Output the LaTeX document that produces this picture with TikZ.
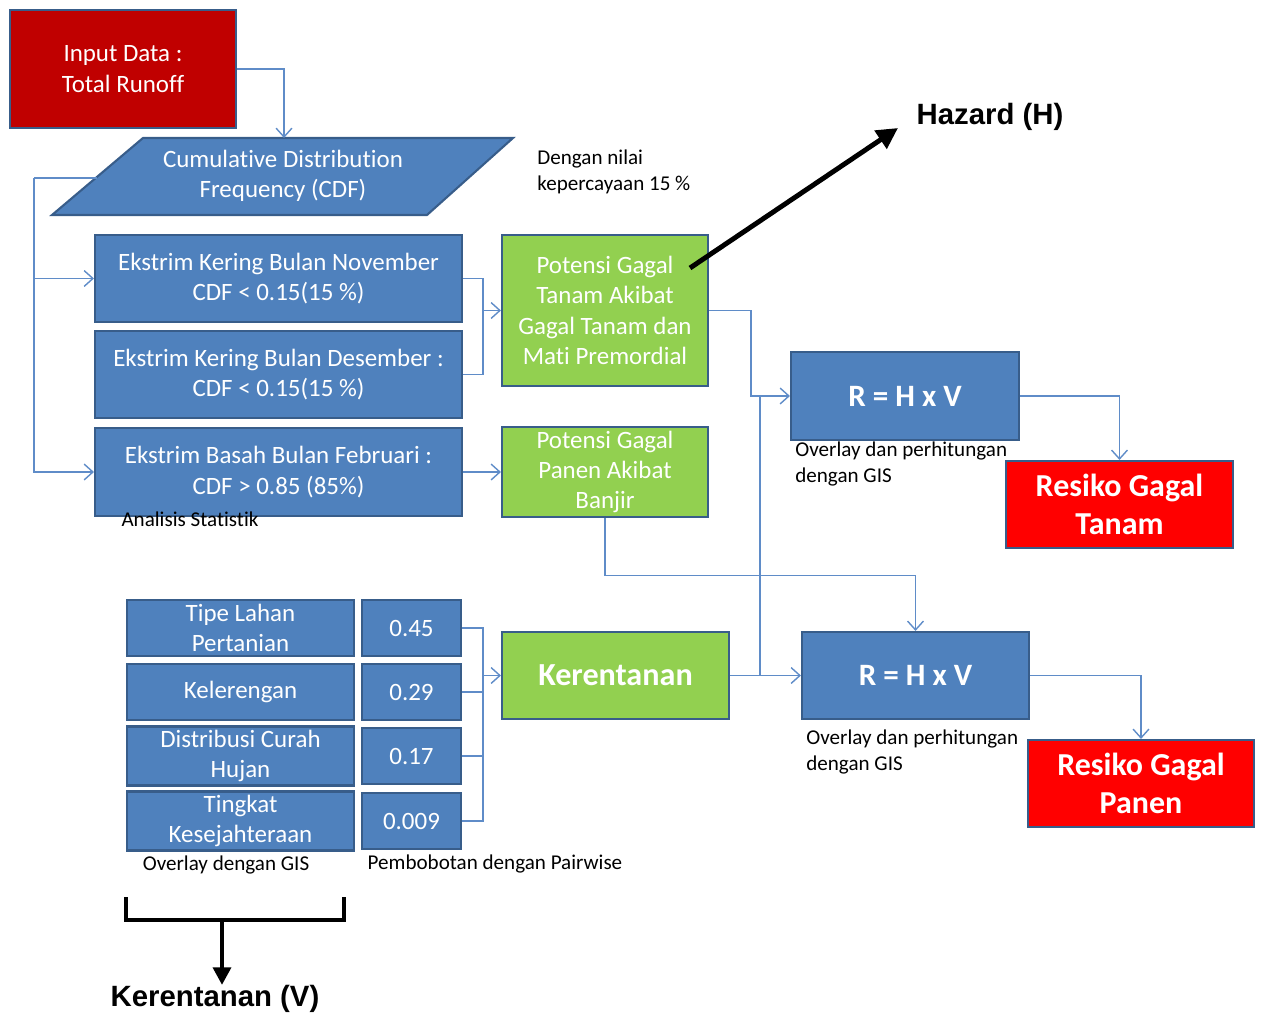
\documentclass[tikz,border=0pt]{standalone}
\usepackage{fontspec}
\setmainfont{Carlito}[Ligatures=NoCommon]
\newfontfamily\arialfont{Liberation Sans}
\usetikzlibrary{arrows.meta}
\definecolor{boxBlue}{RGB}{79, 129, 189}
\definecolor{boxEdge}{RGB}{56, 93, 138}
\definecolor{boxGreen}{RGB}{146, 208, 80}
\definecolor{boxDarkRed}{RGB}{192, 0, 0}
\definecolor{boxRed}{RGB}{255, 0, 0}
\definecolor{lineBlue}{RGB}{95, 140, 200}

\tikzset{
  box/.style={draw=boxEdge, line width=1.2pt, text=white, align=center,
    font=\fontsize{14.2}{17.3}\selectfont, inner sep=2pt},
  bluebox/.style={box, fill=boxBlue},
  greenbox/.style={box, fill=boxGreen},
  redbox/.style={box, fill=boxRed, font=\bfseries\fontsize{18.2}{22}\selectfont},
  line/.style={draw=lineBlue, line width=0.8pt},
  flow/.style={line, -{Straight Barb[length=5pt, width=9pt]}},
  note/.style={align=left, font=\fontsize{12}{14.7}\selectfont, inner sep=0pt},
  label/.style={font=\arialfont\bfseries\fontsize{16.7}{20}\selectfont, inner sep=0pt},
  thickline/.style={line width=2.8pt, black}
}

\begin{document}
\begin{tikzpicture}[x=0.02cm, y=-0.02cm]
  \useasboundingbox (0,0) rectangle (1262,1017);

  \node[box, fill=boxDarkRed, minimum width=4.52cm, minimum height=2.36cm] (input) at (123,69) {Input Data :\\Total Runoff};

  \draw[line width=1.2pt, draw=boxEdge, fill=boxBlue] (143,138) -- (513,138) -- (427,215) -- (52,215) -- cycle;
  \node[box, draw=none] (cdf) at (283,176) {Cumulative Distribution\\Frequency (CDF)};
  \coordinate (cdftop) at (284,138);
  \coordinate (cdfleft) at (97,178);
  \coordinate (spine) at (34,178);

  \node[bluebox, minimum width=7.34cm, minimum height=1.74cm] (nov) at (278.5,278.5) {Ekstrim Kering Bulan November\\CDF < 0.15(15 \%)};
  \node[bluebox, minimum width=7.34cm, minimum height=1.74cm] (des) at (278.5,374.5) {Ekstrim Kering Bulan Desember :\\CDF < 0.15(15 \%)};
  \node[bluebox, minimum width=7.34cm, minimum height=1.76cm] (feb) at (278.5,472) {Ekstrim Basah Bulan Februari :\\CDF > 0.85 (85\%)};
  \node[note, anchor=center] (stat) at (190,519) {Analisis Statistik};

  \node[greenbox, minimum width=4.12cm, minimum height=3.02cm] (pot1) at (605,310.5) {Potensi Gagal\\Tanam Akibat\\Gagal Tanam dan\\Mati Premordial};
  \node[greenbox, minimum width=4.12cm, minimum height=1.76cm] (pot2) at (605,472) {Potensi Gagal\\Panen Akibat\\Banjir};
  \node[note, anchor=west] (conf) at (537,172) {Dengan nilai\\kepercayaan 15 \%};

  \node[bluebox, minimum width=4.56cm, minimum height=1.76cm, font=\bfseries\fontsize{17.7}{20}\selectfont] (rhv1) at (905,396) {R = H x V};
  \node[note, anchor=west] (ov1) at (795,464) {Overlay dan perhitungan\\dengan GIS};
  \node[redbox, minimum width=4.54cm, minimum height=1.74cm] (tanam) at (1119.5,504.5) {Resiko Gagal\\Tanam};

  \node[bluebox, minimum width=4.54cm, minimum height=1.74cm, font=\bfseries\fontsize{17.7}{20}\selectfont] (rhv2) at (915.5,675.5) {R = H x V};
  \node[note, anchor=west] (ov2) at (806,752) {Overlay dan perhitungan\\dengan GIS};
  \node[redbox, minimum width=4.52cm, minimum height=1.74cm] (panen) at (1141,783.5) {Resiko Gagal\\Panen};

  \node[greenbox, minimum width=4.54cm, minimum height=1.74cm, font=\bfseries\fontsize{18.3}{20}\selectfont] (ker) at (615.5,675.5) {Kerentanan};

  \node[bluebox, minimum width=4.54cm, minimum height=1.12cm] (f1) at (240.5,628) {Tipe Lahan\\Pertanian};
  \node[bluebox, minimum width=4.54cm, minimum height=1.12cm] (f2) at (240.5,692) {Kelerengan};
  \node[bluebox, minimum width=4.54cm, minimum height=1.12cm] (f3) at (240.5,756) {Distribusi Curah\\Hujan};
  \node[bluebox, minimum width=4.54cm, minimum height=1.12cm] (f4) at (240.5,821) {Tingkat\\Kesejahteraan};
  \node[bluebox, minimum width=1.98cm, minimum height=1.12cm] (w1) at (411.5,628) {0.45};
  \node[bluebox, minimum width=1.98cm, minimum height=1.12cm] (w2) at (411.5,692) {0.29};
  \node[bluebox, minimum width=1.98cm, minimum height=1.12cm] (w3) at (411.5,756) {0.17};
  \node[bluebox, minimum width=1.98cm, minimum height=1.12cm] (w4) at (411.5,821) {0.009};
  \node[note] (ovg) at (226,865) {Overlay dengan GIS};
  \node[note] (pair) at (495,864) {Pembobotan dengan Pairwise};

  \node[label] (haz) at (990,117) {Hazard (H)};
  \node[label] (kerv) at (215,999) {Kerentanan (V)};
  \coordinate (hazfoot) at (690,268);
  \coordinate (hazhead) at (898,128);
  \coordinate (brk) at (222,920);

  \draw[flow] (input.east) -| (cdftop);
  \draw[line] (cdfleft) -- (spine);
  \draw[flow] (spine) |- (nov.west);
  \draw[flow] (spine) |- (feb.west);
  \draw[line] (nov.east) -- ++(20,0) |- (des.east);
  \draw[flow] (482,310.5) -- (pot1.west);
  \draw[flow] (feb.east) -- (pot2.west);
  \draw[flow] (pot1.east) -- ++(42,0) |- (rhv1.west);
  \draw[flow] (pot2.south) -- ++(0,58) -| (rhv2.north);
  \draw[flow] (ker.east) -- (rhv2.west);
  \draw[line] (760,675.5) -- (760,396);
  \draw[flow] (rhv1.east) -| (tanam.north);
  \draw[flow] (rhv2.east) -| (panen.north);

  \draw[line] (w1.east) -- ++(21,0) |- (w4.east);
  \draw[line] (w2.east) -- ++(21,0);
  \draw[line] (w3.east) -- ++(21,0);
  \draw[flow] (482,675.5) -- (ker.west);

  \draw[thickline, -{Triangle[length=12pt, width=12pt]}] (hazfoot) -- (hazhead);
  \draw[thickline] (126,897) -- (126,920) -- (344,920) -- (344,897);
  \draw[thickline, -{Triangle[length=10pt, width=10pt]}] (brk) -- (brk |- kerv.north);
\end{tikzpicture}
\end{document}
